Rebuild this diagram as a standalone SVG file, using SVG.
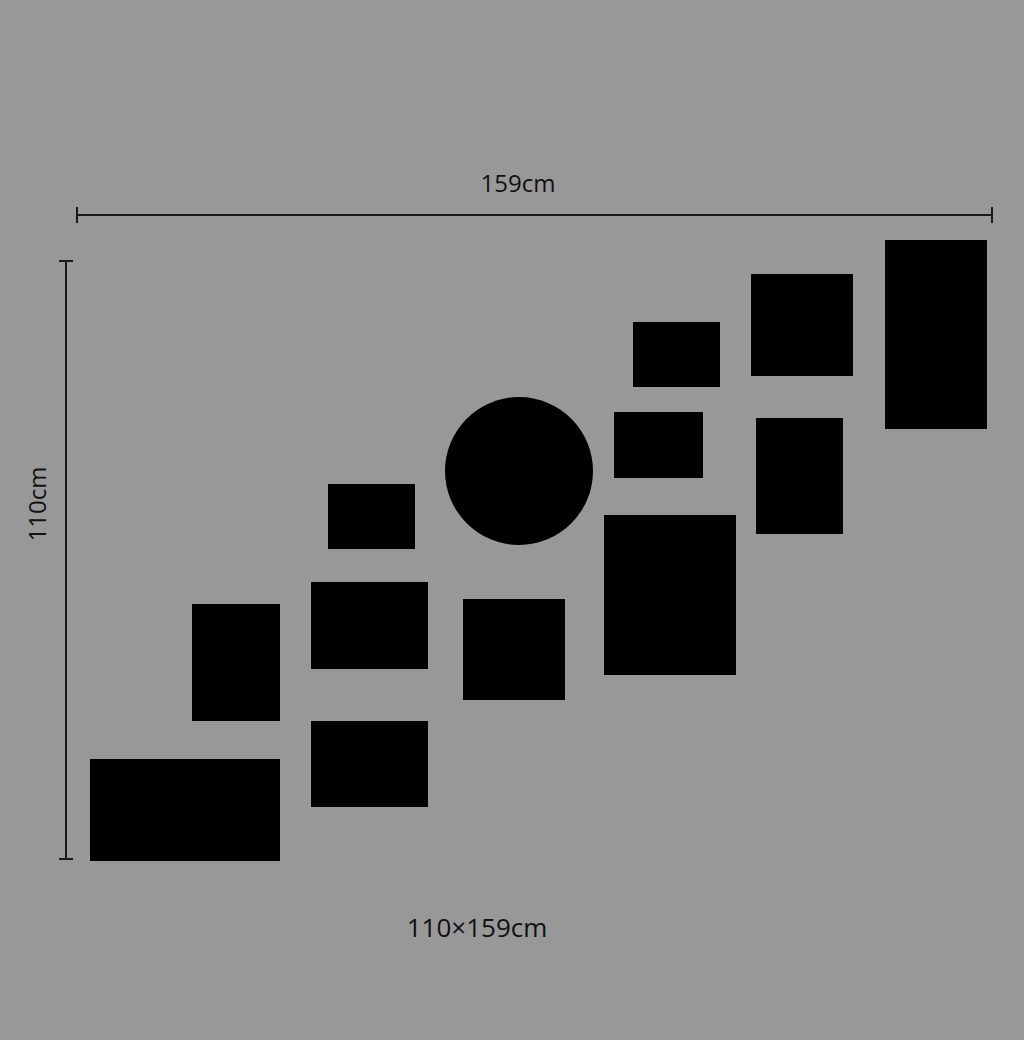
<svg xmlns="http://www.w3.org/2000/svg" width="1024" height="1040" viewBox="0 0 1024 1040">
<style>
.f{fill:#000}
.d{stroke:#1a1a1a;stroke-width:2;fill:none}
.t{font-family:"Open Sans","Noto Sans","DejaVu Sans",sans-serif;font-size:24px;fill:#111}
</style>
<rect width="1024" height="1040" fill="#989898"/>
<g id="dimensions">
<line class="d" x1="77" y1="215" x2="992" y2="215"/>
<line class="d" x1="77" y1="207" x2="77" y2="223"/>
<line class="d" x1="992" y1="207" x2="992" y2="223"/>
<line class="d" x1="66" y1="261" x2="66" y2="859"/>
<line class="d" x1="59" y1="261" x2="73" y2="261"/>
<line class="d" x1="59" y1="859" x2="73" y2="859"/>
<text class="t" x="518" y="192" text-anchor="middle">159cm</text>
<text class="t" x="0" y="0" text-anchor="middle" transform="translate(46,504) rotate(-90)">110cm</text>
<text class="t" x="477" y="937" text-anchor="middle" style="font-size:26px">110×159cm</text>
</g>
<g id="frames">
<rect id="f1" class="f" x="885" y="240" width="102" height="189"/>
<rect id="f2" class="f" x="751" y="274" width="102" height="102"/>
<rect id="f3" class="f" x="633" y="322" width="87" height="65"/>
<rect id="f4" class="f" x="614" y="412" width="89" height="66"/>
<rect id="f5" class="f" x="756" y="418" width="87" height="116"/>
<circle id="f6" class="f" cx="519" cy="471" r="74"/>
<rect id="f7" class="f" x="328" y="484" width="87" height="65"/>
<rect id="f8" class="f" x="604" y="515" width="132" height="160"/>
<rect id="f9" class="f" x="311" y="582" width="117" height="87"/>
<rect id="f10" class="f" x="463" y="599" width="102" height="101"/>
<rect id="f11" class="f" x="192" y="604" width="88" height="117"/>
<rect id="f12" class="f" x="311" y="721" width="117" height="86"/>
<rect id="f13" class="f" x="90" y="759" width="190" height="102"/>
</g>
</svg>
